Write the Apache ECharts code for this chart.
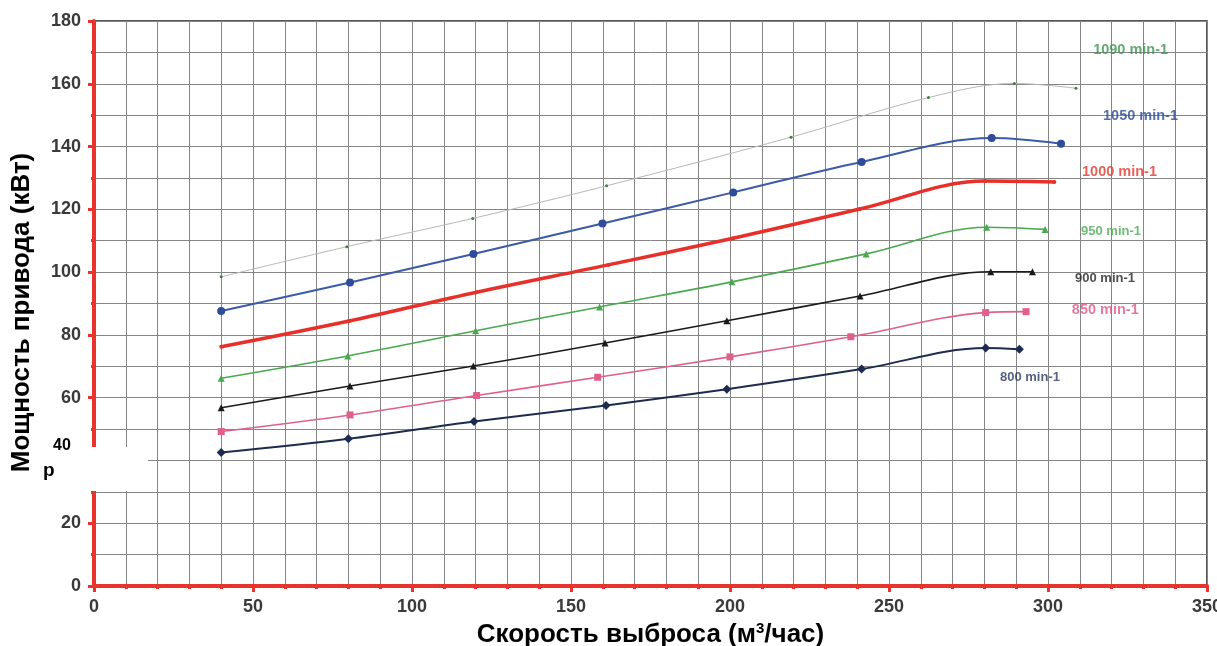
<!DOCTYPE html>
<html><head><meta charset="utf-8">
<script src="https://cdn.jsdelivr.net/npm/echarts@6/dist/echarts.min.js"></script>
<style>html,body{margin:0;padding:0;background:#fff}#c{width:1217px;height:646px}</style>
</head><body><div id="c"></div>
<script>
// ---- data ----
const speedNames = ['1090 min-1','1050 min-1','1000 min-1','950 min-1','900 min-1','850 min-1','800 min-1'];

const x1090 = [40, 79.5, 119.1, 161.2, 219.2, 262.4, 289.4, 308.8];
const y1090 = [98.5, 108.1, 117.1, 127.5, 143.0, 155.6, 160.1, 158.6];

const x1050 = [40, 80.5, 119.3, 159.9, 201, 241.4, 282.3, 304.1];
const y1050 = [87.6, 96.7, 105.8, 115.5, 125.4, 135.1, 142.7, 140.9];

const x1000 = [40, 80.2, 120.3, 161.7, 201, 240.8, 280.2, 302];
const y1000 = [76.2, 84.4, 93.6, 102.3, 110.8, 120.1, 129.0, 128.7];

const x950 = [40, 79.8, 120, 159, 200.6, 242.8, 280.7, 299.1];
const y950 = [66.2, 73.3, 81.3, 88.9, 96.9, 105.8, 114.3, 113.6];

const x900 = [40, 80.5, 119.3, 160.7, 199, 240.9, 282, 295.1];
const y900 = [56.8, 63.7, 70.1, 77.4, 84.5, 92.4, 100.1, 100.1];

const x850 = [40, 80.5, 120.3, 158.4, 200, 238, 280.4, 293.1];
const y850 = [49.2, 54.5, 60.7, 66.5, 73.0, 79.4, 87.1, 87.4];

const x800 = [40, 80, 119.5, 161, 199, 241.4, 280.4, 291];
const y800 = [42.5, 46.9, 52.4, 57.5, 62.7, 69.1, 75.8, 75.4];

// curve label anchor positions (data coords)
const labelX = [314.2, 317.3, 310.7, 310.4, 308.5, 307.5, 284.9];
const labelY = [170.8, 149.7, 131.9, 113.1, 98.1, 87.9, 66.6];

const xTitle = 'Скорость выброса (м{sup|3}/час)';
const yTitle = 'Мощность привода (кВт)';

// ---- chart ----
const FONT = 'Liberation Sans, Arial, sans-serif';
const RED = '#e8342c';
const GRID = '#858585';

function pairs(xs, ys){ return xs.map((x,i)=>[x, ys[i]]); }
function line(name, xs, ys, color, width, symbol, size, markerColor, z){
  return {
    type:'line', name, data: pairs(xs, ys), smooth:0.35,
    showSymbol:true, showAllSymbol:true, symbol, symbolSize:size,
    lineStyle:{color, width}, itemStyle:{color: markerColor||color},
    z: z||3, silent:true
  };
}
const labelColors = ['#3d9450','#2d4b94','#e03a2e','#4bab52','#222222','#e0588a','#2a3a60'];
const labelSizes = [14.5,14.5,14.5,13,13,14.5,13];

const chart = echarts.init(document.getElementById('c'), null, {renderer:'canvas'});
chart.setOption({
  animation:false,
  backgroundColor:'#fff',
  grid:{left:94, right:10, top:21, bottom:60, outerBoundsMode:'none', containLabel:false,
        show:true, borderColor:'#222', borderWidth:1.5, backgroundColor:'transparent'},
  xAxis:{
    type:'value', min:0, max:350, interval:50,
    name:xTitle, nameLocation:'middle', nameGap:33,
    nameTextStyle:{fontFamily:FONT, fontSize:26, fontWeight:'bold', color:'#000',
      rich:{sup:{fontFamily:FONT, fontSize:15, fontWeight:'bold', color:'#000', verticalAlign:'top', padding:[0,0,12,0]}}},
    axisLine:{show:true, onZero:false, lineStyle:{color:RED, width:4}},
    axisTick:{show:true, length:6, lineStyle:{color:RED, width:3}},
    minorTick:{show:true, splitNumber:5, length:3, lineStyle:{color:RED, width:3}},
    axisLabel:{fontFamily:FONT, fontSize:18, fontWeight:'bold', color:'#3a3a3a', margin:12},
    splitLine:{show:true, lineStyle:{color:GRID, width:1}},
    minorSplitLine:{show:true, lineStyle:{color:GRID, width:1}}
  },
  yAxis:{
    type:'value', min:0, max:180, interval:20,
    name:yTitle, nameLocation:'middle', nameGap:59, nameRotate:90,
    nameTextStyle:{fontFamily:FONT, fontSize:26, fontWeight:'bold', color:'#000', padding:[0,18,0,0]},
    axisLine:{show:true, onZero:false, lineStyle:{color:RED, width:4}},
    axisTick:{show:true, length:6, lineStyle:{color:RED, width:3}},
    minorTick:{show:true, splitNumber:2, length:3, lineStyle:{color:RED, width:3}},
    axisLabel:{fontFamily:FONT, fontSize:18, fontWeight:'bold', color:'#3a3a3a', margin:13},
    splitLine:{show:true, lineStyle:{color:GRID, width:1}},
    minorSplitLine:{show:true, lineStyle:{color:GRID, width:1}}
  },
  series:[
    line('1090', x1090, y1090, '#b4bab4', 1, 'circle', 3, '#3d7f44'),
    line('1050', x1050, y1050, '#3c5aa8', 2, 'circle', 8, '#2f4c9a'),
    line('1000', x1000, y1000, '#e8302a', 3.5, 'circle', 4, '#e8302a', 4),
    line('950', x950, y950, '#4aa84f', 1.6, 'triangle', 7, '#4aa84f'),
    line('900', x900, y900, '#1a1a1a', 1.6, 'triangle', 7, '#1a1a1a'),
    line('850', x850, y850, '#e0608a', 1.6, 'rect', 7, '#e0608a'),
    line('800', x800, y800, '#1e2b4f', 2, 'diamond', 9, '#1e2b4f'),
    {
      type:'scatter', symbolSize:0, silent:true, z:5,
      data: labelX.map((x,i)=>({value:[x, labelY[i]], label:{color:labelColors[i], fontSize:labelSizes[i]}})),
      label:{show:true, position:'right', distance:0, fontFamily:FONT, fontWeight:'bold',
        formatter:p=>speedNames[p.dataIndex]}
    }
  ],
  graphic:[
    {type:'rect', left:40, top:447, shape:{width:108, height:44}, style:{fill:'#fff'}, z:100},
    {type:'text', left:53, top:438, style:{text:'40', fontFamily:FONT, fontSize:16, fontWeight:'bold', fill:'#000'}, z:101},
    {type:'text', left:43, top:461, style:{text:'р', fontFamily:FONT, fontSize:19, fontWeight:'bold', fill:'#000'}, z:101}
  ]
});
</script>
</body></html>
